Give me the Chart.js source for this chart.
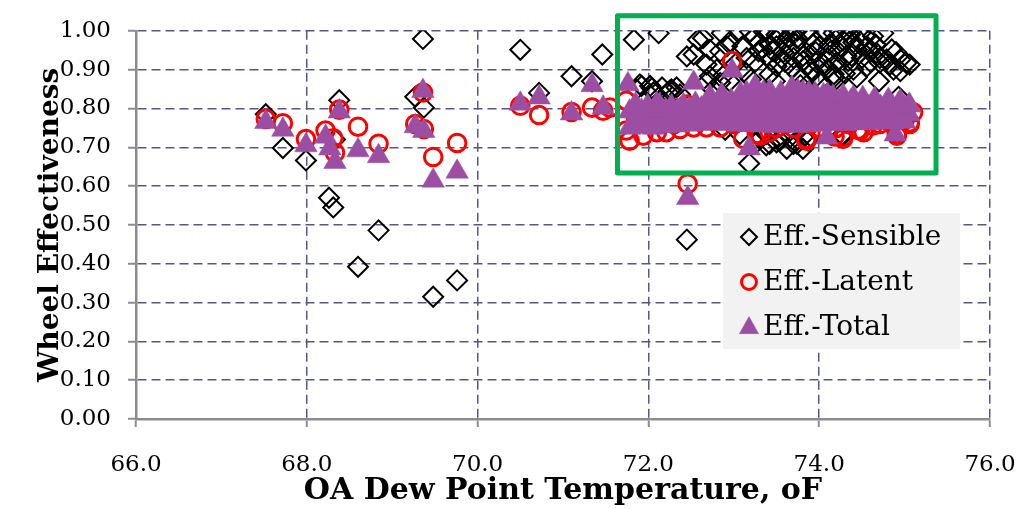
<!DOCTYPE html>
<html><head><meta charset="utf-8">
<script src="https://cdn.jsdelivr.net/npm/chart.js@4/dist/chart.umd.min.js"></script>
<style>html,body{margin:0;padding:0;background:#fff;}#wrap{width:1020px;height:509px;position:relative;}</style>
</head><body><div id="wrap"><canvas id="c" width="1020" height="509"></canvas></div>
<script>
// ---- data ----
const seriesNames = ["Eff.-Sensible", "Eff.-Latent", "Eff.-Total"];
const xTitle = "OA Dew Point Temperature, oF";
const yTitle = "Wheel Effectiveness";
const xRange = [66, 76];
const yRange = [0, 1];
const highlightX = [71.638, 75.368];
const highlightY = [0.634, 1.039];

const sensibleX = [67.52,67.72,67.99,68.26,68.31,68.33,68.38,68.60,68.84,69.27,69.36,69.37,69.48,69.76,70.50,70.72,71.10,71.34,71.46,72.45,
 71.86,71.90,71.92,72.02,72.04,72.06,72.16,72.23,72.25,72.27,72.33,72.37,
 71.83,72.12,72.45,72.53,72.58,72.64,72.68,72.72,72.72,72.80,72.68,72.84,72.76,72.84,72.86,72.92,72.94,72.88,72.95,73.07,73.10,73.15,73.19,73.23,73.25,73.29,73.30,73.35,73.38,73.38,73.42,73.42,73.46,73.50,73.50,73.50,73.54,73.56,73.60,73.60,73.62,73.66,73.68,73.70,73.74,73.74,73.75,73.79,73.81,73.81,73.85,73.85,73.89,73.90,73.93,73.93,73.97,73.97,74.00,74.01,74.05,74.05,74.07,74.09,74.10,74.13,74.17,74.17,74.17,74.20,74.20,74.22,74.24,74.25,74.30,74.32,74.32,74.34,74.36,74.40,74.40,74.44,74.48,74.48,74.50,74.56,74.56,74.59,74.60,74.63,74.67,74.71,74.71,74.75,74.79,74.83,74.85,74.87,74.95,74.95,75.02,75.06,
 73.02,73.12,73.33,73.44,73.58,73.64,73.72,73.96,74.12,74.28,74.38,74.54,74.66,74.90,73.20,73.48,73.78,74.02,74.44,74.70,
 72.90,73.07,73.18,73.27,73.31,73.38,73.38,73.42,73.50,73.54,73.62,73.66,73.70,73.74,73.81,73.81,73.87,73.87,74.26,74.28,74.93];
const sensibleY = [0.785,0.698,0.666,0.570,0.545,0.720,0.821,0.392,0.486,0.830,0.979,0.802,0.315,0.357,0.951,0.840,0.883,0.870,0.939,0.462,
 0.849,0.862,0.858,0.858,0.852,0.841,0.854,0.841,0.846,0.849,0.854,0.836,
 0.977,0.994,0.934,0.939,0.977,0.981,0.913,0.951,0.883,0.900,0.866,0.866,0.849,0.947,0.994,0.960,0.969,0.885,0.870,0.999,0.960,0.930,0.998,0.981,0.920,0.947,0.970,0.998,1.000,0.935,0.964,0.888,0.947,0.990,0.960,0.909,0.990,0.930,0.970,0.920,1.000,0.952,0.905,0.930,0.981,1.000,0.888,0.875,0.922,0.935,1.000,0.910,0.986,0.940,0.964,0.896,0.918,0.883,0.960,0.870,0.990,0.913,1.000,0.900,0.930,0.947,0.879,0.994,0.888,0.918,0.875,0.947,0.998,0.960,0.890,1.000,0.935,0.922,0.990,0.900,0.970,0.952,0.994,0.972,0.930,0.960,0.909,0.947,0.920,0.986,0.943,0.918,0.930,0.994,0.926,0.913,0.952,0.900,0.926,0.896,0.917,0.913,
 0.915,0.895,0.955,0.925,0.945,0.985,0.965,0.945,0.965,0.975,0.935,0.985,0.965,0.945,0.875,0.870,0.860,0.865,0.880,0.870,
 0.745,0.734,0.658,0.713,0.726,0.734,0.705,0.709,0.713,0.717,0.696,0.726,0.709,0.709,0.696,0.726,0.717,0.722,0.730,0.730,0.830];

const latentX = [67.52,67.72,67.99,68.22,68.31,68.33,68.38,68.60,68.84,69.27,69.36,69.37,69.48,69.76,70.50,70.72,71.10,71.34,71.47,
 71.55,71.74,71.78,71.74,71.94,72.10,72.21,72.37,72.45,72.46,72.53,72.68,72.84,72.98,73.11,73.27,73.31,73.42,73.85,73.85,74.10,74.18,74.28,74.28,74.45,74.48,74.52,74.63,74.71,74.91,74.91,75.06,75.06,75.10,
 71.85,72.00,72.30,72.60,72.75,72.90,73.00,73.20,73.40,73.50,73.60,73.70,73.80,73.90,74.00,74.20,74.35,74.55,74.70,74.80,74.85,74.95,75.00];
const latentY = [0.773,0.762,0.721,0.743,0.723,0.686,0.797,0.753,0.709,0.760,0.841,0.747,0.675,0.711,0.807,0.783,0.791,0.802,0.794,
 0.802,0.743,0.717,0.820,0.730,0.739,0.739,0.747,0.810,0.606,0.751,0.751,0.751,0.922,0.722,0.734,0.730,0.739,0.722,0.717,0.735,0.728,0.726,0.722,0.745,0.743,0.739,0.756,0.760,0.734,0.730,0.764,0.760,0.790,
 0.780,0.770,0.760,0.770,0.790,0.780,0.760,0.770,0.780,0.750,0.760,0.750,0.770,0.760,0.750,0.750,0.760,0.770,0.780,0.770,0.760,0.790,0.770];

const totalX = [67.52,67.72,67.99,68.22,68.27,68.33,68.38,68.60,68.84,69.27,69.36,69.37,69.48,69.76,70.50,70.72,71.10,71.34,71.47,72.46,
 73.18,74.09,74.89,
 71.78,71.92,72.06,72.20,72.34,72.48,72.62,72.76,72.90,73.04,73.18,73.32,73.46,73.60,73.74,73.88,74.02,74.16,74.30,74.44,74.58,74.72,74.86,75.00,
 71.85,71.99,72.13,72.27,72.41,72.55,72.69,72.83,72.97,73.11,73.25,73.39,73.53,73.67,73.81,73.95,74.09,74.23,74.37,74.51,74.65,74.79,74.93,75.05,
 71.78,71.92,72.06,72.20,72.34,72.48,72.62,72.76,72.90,73.04,73.18,73.32,73.46,73.60,73.74,73.88,74.02,74.16,74.30,74.44,74.58,74.72,74.86,75.00,
 71.85,71.99,72.13,72.27,72.41,72.55,72.69,72.83,72.97,73.11,73.25,73.39,73.53,73.67,73.81,73.95,74.09,74.23,74.37,74.51,74.65,74.79,74.93,75.05,
 71.76,72.10,72.53,72.72,72.86,72.98,73.08,73.15,73.25,73.35,73.42,73.55,73.68,73.75,73.81,73.88,73.95,74.05,74.10,74.16,74.28,74.40,74.51,74.65,74.81,74.95,75.06];
const totalY = [0.765,0.745,0.705,0.727,0.697,0.662,0.792,0.692,0.677,0.754,0.845,0.742,0.614,0.637,0.812,0.828,0.787,0.860,0.802,0.569,
 0.697,0.725,0.733,
 0.750,0.752,0.750,0.754,0.756,0.758,0.760,0.762,0.760,0.758,0.757,0.756,0.755,0.757,0.755,0.757,0.758,0.760,0.760,0.762,0.762,0.764,0.764,0.766,
 0.772,0.774,0.773,0.776,0.777,0.779,0.780,0.781,0.780,0.779,0.778,0.778,0.777,0.778,0.777,0.778,0.779,0.780,0.780,0.781,0.782,0.783,0.784,0.785,
 0.792,0.794,0.793,0.795,0.796,0.798,0.800,0.802,0.801,0.800,0.799,0.800,0.799,0.800,0.799,0.800,0.801,0.802,0.802,0.803,0.803,0.804,0.804,0.803,
 0.810,0.806,0.808,0.805,0.808,0.812,0.815,0.818,0.820,0.821,0.822,0.822,0.821,0.822,0.821,0.820,0.820,0.819,0.818,0.817,0.815,0.813,0.812,0.808,
 0.862,0.812,0.866,0.831,0.835,0.897,0.838,0.840,0.857,0.842,0.844,0.840,0.853,0.845,0.842,0.840,0.838,0.834,0.835,0.830,0.832,0.828,0.827,0.825,0.822,0.818,0.808];

const yTicks = [0.0,0.1,0.2,0.3,0.4,0.5,0.6,0.7,0.8,0.9,1.0];
const xTicks = [66,68,70,72,74,76];

// ---- helpers ----
function pts(xs, ys){ return xs.map((x,i)=>({x:x, y:ys[i]})); }
const FONT = "'DejaVu Serif', serif";
const PURPLE = '#9c4fa2';
const GRID = '#56568c';

const styles = [
  {pointStyle:'rectRot', radius:10, borderColor:'#000000', borderWidth:2, backgroundColor:'rgba(0,0,0,0)'},
  {pointStyle:'circle', radius:8.8, borderColor:'#ff0000', borderWidth:3, backgroundColor:'rgba(0,0,0,0)'},
  {pointStyle:'triangle', radius:13, borderColor:PURPLE, borderWidth:0.5, backgroundColor:PURPLE}
];

function drawSymbol(ctx, st, x, y){
  ctx.save();
  ctx.lineWidth = st.borderWidth; ctx.strokeStyle = st.borderColor; ctx.fillStyle = st.backgroundColor;
  ctx.beginPath();
  const r = st.radius;
  if (st.pointStyle==='rectRot'){ const q=r*0.8; ctx.moveTo(x-q,y);ctx.lineTo(x,y-q);ctx.lineTo(x+q,y);ctx.lineTo(x,y+q);ctx.closePath(); }
  else if (st.pointStyle==='circle'){ ctx.arc(x,y,r*0.85,0,Math.PI*2); }
  else { const q=r*0.85; ctx.moveTo(x,y-q*0.95); ctx.lineTo(x+q*0.87,y+q*0.6); ctx.lineTo(x-q*0.87,y+q*0.6); ctx.closePath(); }
  if (st.pointStyle==='triangle') ctx.fill();
  ctx.stroke();
  ctx.restore();
}

const highlightBox = {
  id:'highlightBox',
  afterDatasetsDraw(chart){
    const {ctx, scales:{x,y}} = chart;
    const x1=x.getPixelForValue(highlightX[0]), x2=x.getPixelForValue(highlightX[1]);
    const y1=y.getPixelForValue(highlightY[1]), y2=y.getPixelForValue(highlightY[0]);
    ctx.save();
    ctx.strokeStyle='#00b050'; ctx.lineWidth=5; ctx.lineJoin='round';
    ctx.beginPath(); ctx.rect(x1,y1,x2-x1,y2-y1); ctx.stroke();
    ctx.restore();
  }
};

const boxLegend = {
  id:'boxLegend',
  afterDatasetsDraw(chart){
    const ctx = chart.ctx;
    const left=723, top=213, w=237, h=136;
    ctx.save();
    ctx.fillStyle='#f2f2f2'; ctx.fillRect(left,top,w,h);
    ctx.font = "28px " + FONT; ctx.fillStyle='#000'; ctx.textBaseline='middle'; ctx.textAlign='left';
    seriesNames.forEach((name,i)=>{
      const cy = top + 24 + i*45;
      drawSymbol(ctx, styles[i], left+26, cy);
      ctx.fillText(name, left+40, cy+1);
    });
    ctx.restore();
  }
};

const datasets = [
  {label:seriesNames[0], data:pts(sensibleX,sensibleY), order:3},
  {label:seriesNames[1], data:pts(latentX,latentY), order:2},
  {label:seriesNames[2], data:pts(totalX,totalY), order:1}
].map((d,i)=>Object.assign(d, {
  pointStyle:styles[i].pointStyle, pointRadius:styles[i].radius, pointHoverRadius:styles[i].radius,
  pointBorderColor:styles[i].borderColor, pointBackgroundColor:styles[i].backgroundColor,
  pointBorderWidth:styles[i].borderWidth, showLine:false
}));

new Chart(document.getElementById('c'), {
  type:'scatter',
  data:{datasets},
  options:{
    responsive:false, animation:false, events:[],
    layout:{padding:{left:0, top:28, right:30, bottom:0}},
    plugins:{legend:{display:false}, tooltip:{enabled:false}, title:{display:false}},
    scales:{
      x:{
        type:'linear', min:xRange[0], max:xRange[1],
        afterBuildTicks(s){ s.ticks = xTicks.map(v=>({value:v})); },
        afterFit(s){ s.height = 90; s.paddingLeft = 0; s.paddingRight = 0; },
        ticks:{ color:'#000', font:{family:FONT, size:23}, padding:24, maxRotation:0, callback:v=>Number(v).toFixed(1) },
        grid:{ color:GRID, lineWidth:1.5, tickLength:8, tickColor:'#8c8c8c', tickWidth:2, tickBorderDash:[] },
        border:{ display:true, color:'#8c8c8c', width:2.5, dash:[9,5] },
        title:{ display:true, text:xTitle, color:'#000', font:{family:FONT, size:30, weight:'bold'}, padding:{top:0,bottom:0} }
      },
      y:{
        type:'linear', min:yRange[0], max:yRange[1],
        afterBuildTicks(s){ s.ticks = yTicks.map(v=>({value:v})); },
        afterFit(s){ s.width = 136; },
        ticks:{ color:'#000', font:{family:FONT, size:23}, padding:17, callback:v=>Number(v).toFixed(2) },
        grid:{ color:GRID, lineWidth:1.5, tickLength:8, tickColor:'#8c8c8c', tickWidth:2, tickBorderDash:[] },
        border:{ display:true, color:'#8c8c8c', width:2.5, dash:[9,5] },
        title:{ display:true, text:yTitle, color:'#000', font:{family:FONT, size:28, weight:'bold'}, padding:{top:34,bottom:0} }
      }
    }
  },
  plugins:[highlightBox, boxLegend]
});
</script></body></html>
